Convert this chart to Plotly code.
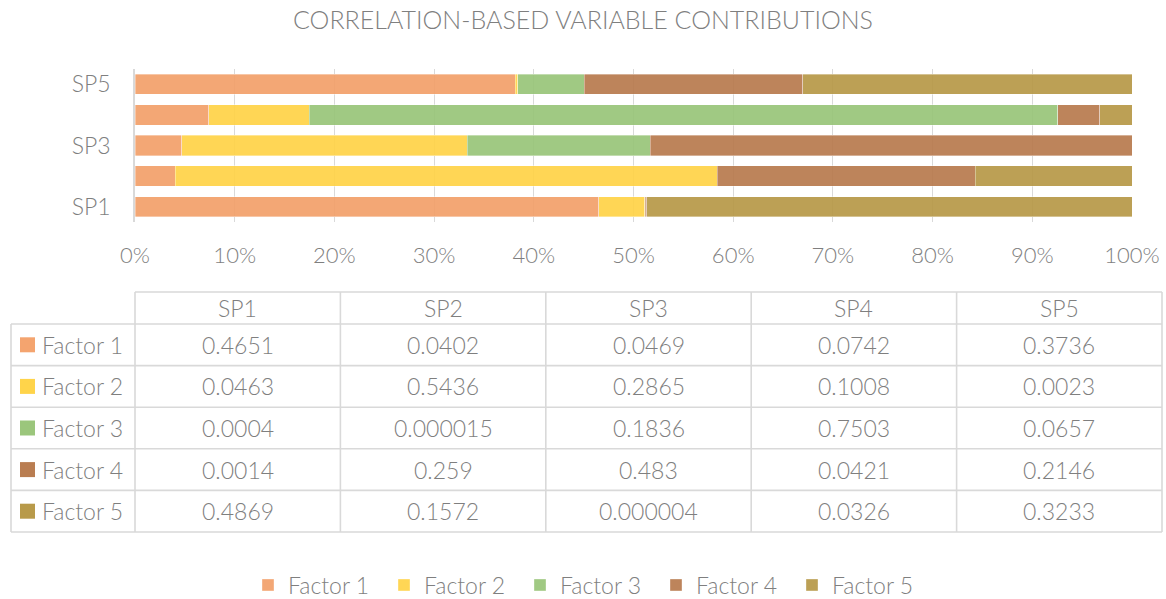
import plotly.graph_objects as go

# ---------------- data ----------------
categories = ["SP1", "SP2", "SP3", "SP4", "SP5"]
factor_names = ["Factor 1", "Factor 2", "Factor 3", "Factor 4", "Factor 5"]
factor1 = [0.4651, 0.0402, 0.0469, 0.0742, 0.3736]
factor2 = [0.0463, 0.5436, 0.2865, 0.1008, 0.0023]
factor3 = [0.0004, 0.000015, 0.1836, 0.7503, 0.0657]
factor4 = [0.0014, 0.259, 0.483, 0.0421, 0.2146]
factor5 = [0.4869, 0.1572, 0.000004, 0.0326, 0.3233]
series = [factor1, factor2, factor3, factor4, factor5]
shown_y_ticks = ["SP1", "SP3", "SP5"]
x_ticks = list(range(0, 101, 10))
x_tick_labels = [f"{v}%" for v in x_ticks]

colors = ["#F4A46F", "#FFD44A", "#9BC67C", "#B97D51", "#B89A4A"]
bar_colors = ["rgba(242,160,105,0.92)", "rgba(255,210,70,0.92)", "rgba(152,196,120,0.92)",
              "rgba(183,121,77,0.92)", "rgba(182,152,70,0.92)"]

TXT = "#7f7f7f"
GRID = "#d9d9d9"
FONT = "Lato Light, Lato"

W, H = 1166, 599
L, R, T, B = 135, 34, 69, 377
PW, PH = W - L - R, H - T - B


def px(x):
    return (x - L) / PW


def py(y):
    return (H - B - y) / PH


def fmt(v):
    return f"{v:.6f}".rstrip("0")


fig = go.Figure()
for name, vals, c in zip(factor_names, series, bar_colors):
    fig.add_trace(go.Bar(
        y=categories, x=vals, name=name, orientation="h",
        marker=dict(color=c, line=dict(color="rgba(255,255,255,0.45)", width=0.8)),
    ))

# ---------------- data table ----------------
shapes = []
annotations = []
col_x = [135 + i * 205.4 for i in range(len(categories) + 1)]
left_x = 11
header_top, header_bot = 292, 324
row_h = 41.6
row_y = [header_bot + i * row_h for i in range(len(factor_names) + 1)]
lw = 1.6


def line(x0, y0, x1, y1):
    shapes.append(dict(type="line", xref="paper", yref="paper",
                       x0=px(x0), y0=py(y0), x1=px(x1), y1=py(y1),
                       line=dict(color=GRID, width=lw)))


line(col_x[0], header_top, col_x[-1], header_top)
for y in row_y:
    line(left_x, y, col_x[-1], y)
line(left_x, row_y[0], left_x, row_y[-1])
for x in col_x:
    line(x, header_top, x, row_y[-1])

for j, cat in enumerate(categories):
    cx = (col_x[j] + col_x[j + 1]) / 2
    annotations.append(dict(xref="paper", yref="paper", x=px(cx), y=py((header_top + header_bot) / 2),
                            text=cat, showarrow=False, xanchor="center", yanchor="middle",
                            font=dict(size=23, color=TXT, family=FONT)))

for i, (name, vals, c) in enumerate(zip(factor_names, series, colors)):
    yc = (row_y[i] + row_y[i + 1]) / 2
    shapes.append(dict(type="rect", xref="paper", yref="paper",
                       x0=px(20), x1=px(35), y0=py(yc - 7.5), y1=py(yc + 7.5),
                       fillcolor=c, line=dict(width=0)))
    annotations.append(dict(xref="paper", yref="paper", x=px(40), y=py(yc),
                            text=name, showarrow=False, xanchor="left", yanchor="middle",
                            font=dict(size=23, color=TXT, family=FONT)))
    for j, v in enumerate(vals):
        cx = (col_x[j] + col_x[j + 1]) / 2
        annotations.append(dict(xref="paper", yref="paper", x=px(cx), y=py(yc),
                                text=fmt(v), showarrow=False, xanchor="center", yanchor="middle",
                                font=dict(size=23, color=TXT, family=FONT)))

fig.update_layout(
    width=W, height=H,
    margin=dict(l=L, r=R, t=T, b=B, pad=0, autoexpand=False),
    paper_bgcolor="white", plot_bgcolor="white",
    barmode="stack", barnorm="percent", bargap=0.335,
    font=dict(family=FONT, color=TXT, size=22),
    title=dict(text="CORRELATION-BASED VARIABLE CONTRIBUTIONS",
               x=0.5, xref="container", xanchor="center",
               y=1 - 20 / H, yref="container", yanchor="middle",
               font=dict(size=25, color=TXT, family=FONT)),
    xaxis=dict(range=[0, 100], tickmode="array", tickvals=x_ticks, ticktext=x_tick_labels,
               showgrid=True, gridcolor=GRID, gridwidth=1.3, zeroline=False,
               ticks="outside", ticklen=14, tickcolor="rgba(0,0,0,0)", automargin=False,
               tickfont=dict(size=22, color=TXT, family=FONT), fixedrange=True),
    yaxis=dict(categoryorder="array", categoryarray=categories,
               tickmode="array", tickvals=shown_y_ticks,
               showline=True, linecolor=GRID, linewidth=1.5,
               showgrid=False, zeroline=False, automargin=False,
               ticks="outside", ticklen=18, tickcolor="rgba(0,0,0,0)",
               tickfont=dict(size=23, color=TXT, family=FONT), fixedrange=True),
    legend=dict(orientation="h", xref="container", yref="container",
                x=0.5 + 5 / W, xanchor="center", y=1 - 585 / H, yanchor="middle",
                traceorder="normal", entrywidth=91, entrywidthmode="pixels",
                font=dict(size=23, color=TXT, family=FONT)),
    shapes=shapes, annotations=annotations,
)

fig.write_html("out.html", config={"displayModeBar": False},
               post_script="document.body.style.margin='0';document.body.style.padding='0';")
